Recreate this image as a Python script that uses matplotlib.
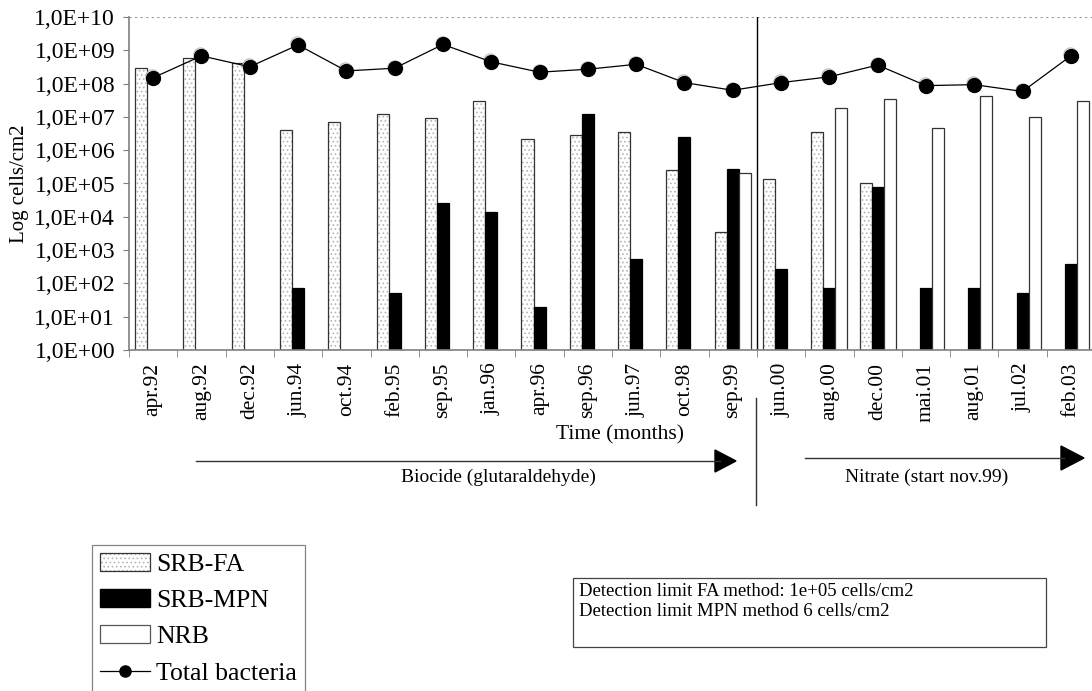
import numpy as np
import matplotlib
matplotlib.use("Agg")
import matplotlib.pyplot as plt
from matplotlib.lines import Line2D
from matplotlib.patches import Patch, Rectangle, Polygon
from matplotlib.ticker import FixedLocator, FuncFormatter
from matplotlib.transforms import offset_copy

plt.rcParams['font.family'] = ['Liberation Serif', 'DejaVu Serif']
plt.rcParams['hatch.linewidth'] = 0.7

nan = np.nan
months = ['apr.92', 'aug.92', 'dec.92', 'jun.94', 'oct.94', 'feb.95', 'sep.95',
          'jan.96', 'apr.96', 'sep.96', 'jun.97', 'oct.98', 'sep.99', 'jun.00',
          'aug.00', 'dec.00', 'mai.01', 'aug.01', 'jul.02', 'feb.03']
srb_fa = [3.0e8, 5.9e8, 4.2e8, 4.0e6, 7.0e6, 1.2e7, 9.3e6, 3.0e7, 2.1e6, 2.9e6,
          3.6e6, 2.5e5, 3.5e3, 1.35e5, 3.6e6, 1.0e5, nan, nan, nan, nan]
srb_mpn = [nan, nan, nan, 75, nan, 50, 2.6e4, 1.4e4, 19, 1.2e7,
           550, 2.5e6, 2.8e5, 280, 75, 7.6e4, 75, 75, 52, 370]
nrb = [nan, nan, nan, nan, nan, nan, nan, nan, nan, nan,
       nan, nan, 2.0e5, nan, 1.8e7, 3.4e7, 4.5e6, 4.1e7, 1.0e7, 3.0e7]
total = [1.5e8, 6.8e8, 3.2e8, 1.45e9, 2.4e8, 2.9e8, 1.5e9, 4.5e8, 2.2e8, 2.7e8,
         3.8e8, 1.07e8, 6.3e7, 1.07e8, 1.6e8, 3.6e8, 8.7e7, 9.3e7, 5.8e7, 6.8e8]

W, H = 1092, 691


def fx(x):
    return x / W


def fy(y):
    return 1 - y / H


fig = plt.figure(figsize=(W / 100, H / 100), dpi=100)
ax = fig.add_axes([fx(129), fy(350), (1095 - 129) / W, (350 - 17) / H])

x = np.arange(len(months))
bw = 0.25

# SRB-FA: stippled fill, then a dark outline on top
ax.bar(x - bw, srb_fa, bw, color='white', edgecolor='#b5b5b5', hatch='....', linewidth=0)
ax.bar(x - bw, srb_fa, bw, fill=False, edgecolor='#333333', linewidth=0.9)
ax.bar(x, srb_mpn, bw, color='black', edgecolor='black', linewidth=0.9)
ax.bar(x + bw, nrb, bw, color='white', edgecolor='#333333', linewidth=0.9)

# total bacteria, with a faint grey rim behind each dot
rim = offset_copy(ax.transData, fig=fig, x=-1, y=1.5, units='dots')
ax.plot(x, total, ls='none', marker='o', ms=9.5, mfc='white', mec='#bbbbbb',
        mew=0.8, transform=rim, zorder=4)
ax.plot(x, total, color='black', lw=0.9, marker='o', ms=10,
        mec='black', mfc='black', zorder=5)

ax.set_yscale('log')
ax.set_ylim(1, 1e10)
ax.set_xlim(-0.5, len(months) - 0.5)

ax.yaxis.set_major_locator(FixedLocator([10.0 ** k for k in range(11)]))
ax.yaxis.set_minor_locator(FixedLocator([]))
ax.yaxis.set_major_formatter(FuncFormatter(lambda v, p: "1,0E+%02d" % int(round(np.log10(v)))))
ax.tick_params(axis='y', labelsize=17, length=4, color='#808080', pad=6)

ax.set_xticks(x)
ax.set_xticklabels(months, rotation=90, fontsize=15.5)
ax.set_xticks(np.arange(-0.5, len(months), 1), minor=True)
ax.tick_params(axis='x', which='major', length=0, pad=9)
ax.tick_params(axis='x', which='minor', length=5, color='#808080')

for s in ['top', 'right']:
    ax.spines[s].set_visible(False)
for s in ['left', 'bottom']:
    ax.spines[s].set_color('#808080')
    ax.spines[s].set_linewidth(1.2)

ax.axhline(1e10, color='#999999', lw=0.8, ls=(0, (2, 3)))
ax.axvline(12.5, color='black', lw=1)

ax.set_ylabel('Log cells/cm2', fontsize=15)
ax.yaxis.set_label_coords(-0.104, 0.5)

fig.text(fx(620), fy(435), 'Time (months)', fontsize=15.5, ha='center', va='center')

# treatment periods
fig.add_artist(Line2D([fx(196), fx(720)], [fy(461), fy(461)], color='#333333', lw=1))
fig.add_artist(Polygon([[fx(715), fy(450)], [fx(736), fy(461)], [fx(715), fy(472)]],
                       closed=True, color='black', transform=fig.transFigure))
fig.text(fx(498), fy(477), 'Biocide (glutaraldehyde)', fontsize=14, ha='center', va='center')

fig.add_artist(Line2D([fx(805), fx(1064)], [fy(458), fy(458)], color='#333333', lw=1))
fig.add_artist(Polygon([[fx(1061), fy(446)], [fx(1084), fy(458)], [fx(1061), fy(470)]],
                       closed=True, color='black', transform=fig.transFigure))
fig.text(fx(927), fy(477), 'Nitrate (start nov.99)', fontsize=14, ha='center', va='center')

fig.add_artist(Line2D([fx(756), fx(756)], [fy(398), fy(505)], color='#333333', lw=1))

# legend
h_fa = (Patch(facecolor='white', edgecolor='#b5b5b5', hatch='....', linewidth=0),
        Patch(fill=False, edgecolor='#333333', linewidth=0.9))
h_mpn = Patch(facecolor='black', edgecolor='black')
h_nrb = Patch(facecolor='white', edgecolor='#555555', linewidth=0.9)
h_tot = Line2D([], [], color='black', lw=0.9, marker='o', ms=8)
leg = fig.legend([h_fa, h_mpn, h_nrb, h_tot], ['SRB-FA', 'SRB-MPN', 'NRB', 'Total bacteria'],
                 loc='upper left', bbox_to_anchor=(fx(92), fy(545)), borderaxespad=0,
                 fontsize=18.5, handlelength=1.95, handleheight=0.7, handletextpad=0.25,
                 labelspacing=0.52, borderpad=0.3, frameon=True, fancybox=False)
leg.get_frame().set_edgecolor('#666666')
leg.get_frame().set_linewidth(0.9)

# detection limits note
fig.add_artist(Rectangle((fx(573), fy(647)), fx(1046) - fx(573), fy(578) - fy(647),
                         transform=fig.transFigure, fill=False, edgecolor='#444444', lw=0.9))
fig.text(fx(579), fy(591), 'Detection limit FA method: 1e+05 cells/cm2', fontsize=13.5, va='center')
fig.text(fx(579), fy(612), 'Detection limit MPN method 6 cells/cm2', fontsize=13.5, va='center')

fig.savefig('out.png', dpi=100)
